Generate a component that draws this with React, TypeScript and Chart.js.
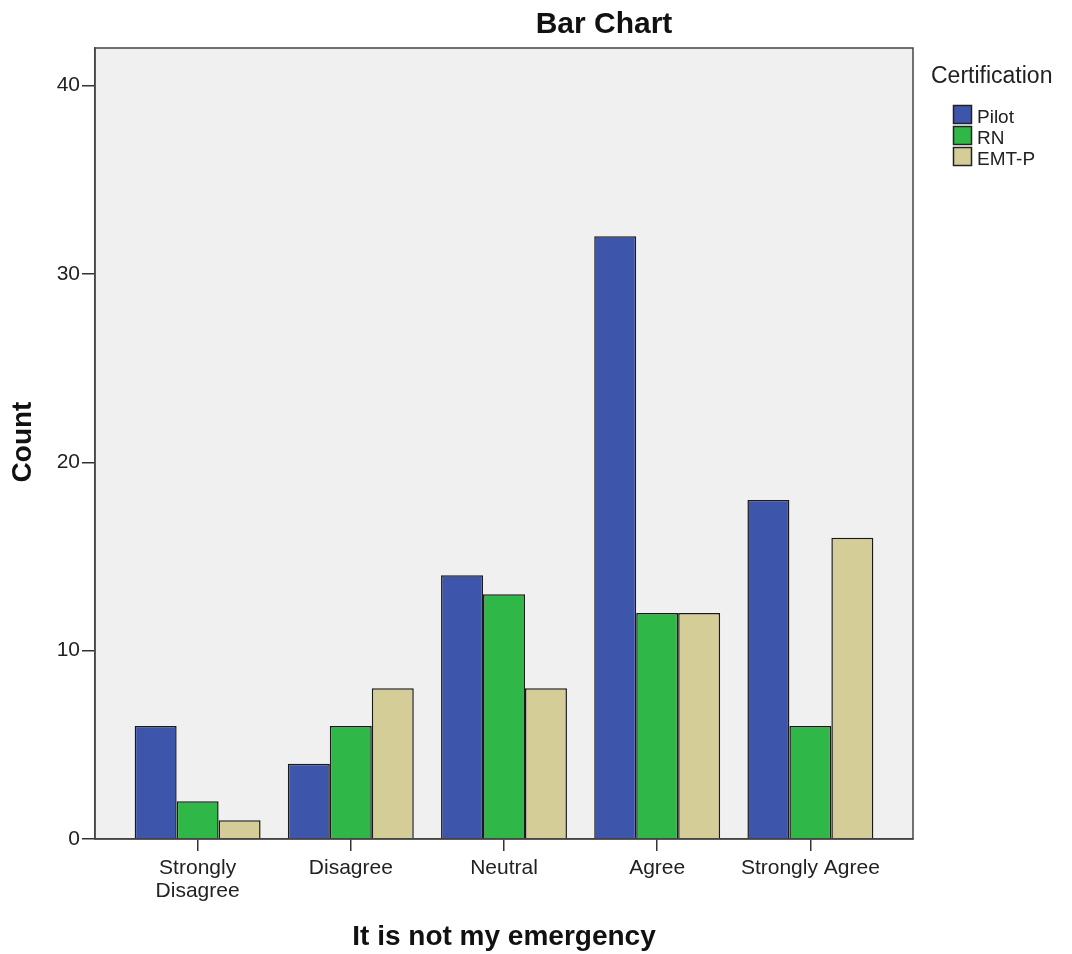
import React, { useEffect, useRef } from "react";
import { Chart, registerables } from "chart.js";

Chart.register(...registerables);

const categories: (string | string[])[] = [
  ["Strongly", "Disagree"],
  "Disagree",
  "Neutral",
  "Agree",
  "Strongly Agree",
];
const seriesNames = ["Pilot", "RN", "EMT-P"];
const pilotCounts = [6, 4, 14, 32, 18];
const rnCounts = [2, 6, 13, 12, 6];
const emtCounts = [1, 8, 8, 12, 16];
const seriesColors = ["#3d56ac", "#2fb848", "#d4cd98"];
const yTicks = [0, 10, 20, 30, 40];

const FONT = "'Liberation Sans', Arial, sans-serif";

export default function App() {
  const ref = useRef<HTMLCanvasElement | null>(null);

  useEffect(() => {
    if (!ref.current) return;
    const allSeries = [pilotCounts, rnCounts, emtCounts];

    const decorPlugin = {
      id: "decor",
      beforeDraw(chart: any) {
        const { ctx, chartArea: a } = chart;
        ctx.save();
        ctx.fillStyle = "#ffffff";
        ctx.fillRect(0, 0, chart.width, chart.height);
        ctx.fillStyle = "#f0f0f0";
        ctx.fillRect(a.left, a.top, a.right - a.left, a.bottom - a.top);
        ctx.restore();
      },
      afterDraw(chart: any) {
        const { ctx, chartArea: a } = chart;
        ctx.save();
        ctx.strokeStyle = "#444";
        ctx.lineWidth = 1.5;
        ctx.strokeRect(a.left, a.top, a.right - a.left, a.bottom - a.top);

        ctx.fillStyle = "#111";
        ctx.textAlign = "center";
        ctx.textBaseline = "alphabetic";
        ctx.font = `bold 30px ${FONT}`;
        ctx.fillText("Bar Chart", 604, 33);

        ctx.font = `bold 28px ${FONT}`;
        ctx.fillText("It is not my emergency", (a.left + a.right) / 2, 945);

        ctx.save();
        ctx.translate(23, 442);
        ctx.rotate(-Math.PI / 2);
        ctx.textBaseline = "middle";
        ctx.fillText("Count", 0, 0);
        ctx.restore();

        // legend
        ctx.textAlign = "left";
        ctx.fillStyle = "#222";
        ctx.font = `23px ${FONT}`;
        ctx.fillText("Certification", 931, 83);
        ctx.font = `19px ${FONT}`;
        const boxTops = [105, 126, 147];
        seriesNames.forEach((name, i) => {
          ctx.fillStyle = seriesColors[i];
          ctx.fillRect(953, boxTops[i], 19, 19);
          ctx.strokeStyle = "#222";
          ctx.lineWidth = 1.5;
          ctx.strokeRect(953.5, boxTops[i] + 0.5, 18, 18);
          ctx.fillStyle = "#222";
          ctx.fillText(name, 977, boxTops[i] + 18);
        });
        ctx.restore();
      },
    };

    const chart = new Chart(ref.current, {
      type: "bar",
      data: {
        datasets: seriesNames.map((name, si) => ({
          label: name,
          data: allSeries[si].map((v, i) => ({ x: i, y: v })),
          backgroundColor: seriesColors[si],
          borderColor: "#1a1a1a",
          borderWidth: 1.5,
          barPercentage: 1,
          categoryPercentage: 0.822,
        })),
      },
      options: {
        animation: false,
        responsive: false,
        maintainAspectRatio: false,
        layout: { padding: { left: 0, right: 159, top: 48, bottom: 0 } },
        plugins: {
          legend: { display: false },
          title: { display: false },
          tooltip: { enabled: false },
        },
        scales: {
          x: {
            type: "linear",
            min: -0.67,
            max: 4.67,
            offset: false,
            afterBuildTicks: (scale: any) => {
              scale.ticks = categories.map((_, i) => ({ value: i }));
            },
            afterFit: (scale: any) => {
              scale.height = 115;
            },
            ticks: {
              autoSkip: false,
              maxRotation: 0,
              minRotation: 0,
              padding: 6,
              color: "#222",
              font: { family: FONT, size: 21, lineHeight: 1.1 },
              callback: (value: any) => categories[value as number] ?? "",
            },
            grid: {
              offset: false,
              drawOnChartArea: false,
              drawTicks: true,
              tickLength: 12,
              color: "#333",
              lineWidth: 1.5,
            },
            border: { display: true, color: "#444", width: 1.5 },
          },
          y: {
            min: 0,
            max: 42,
            afterBuildTicks: (scale: any) => {
              scale.ticks = yTicks.map((v) => ({ value: v }));
            },
            afterFit: (scale: any) => {
              scale.width = 95;
            },
            ticks: {
              padding: 2,
              color: "#222",
              font: { family: FONT, size: 21 },
            },
            grid: {
              drawOnChartArea: false,
              drawTicks: true,
              tickLength: 13,
              color: "#333",
              lineWidth: 1.5,
            },
            border: { display: true, color: "#444", width: 1.5 },
          },
        },
      },
      plugins: [decorPlugin],
    } as any);

    return () => chart.destroy();
  }, []);

  return (
    <div style={{ position: "absolute", left: 0, top: 0, width: 1072, height: 954 }}>
      <canvas ref={ref} width={1072} height={954} style={{ width: 1072, height: 954 }} />
    </div>
  );
}
